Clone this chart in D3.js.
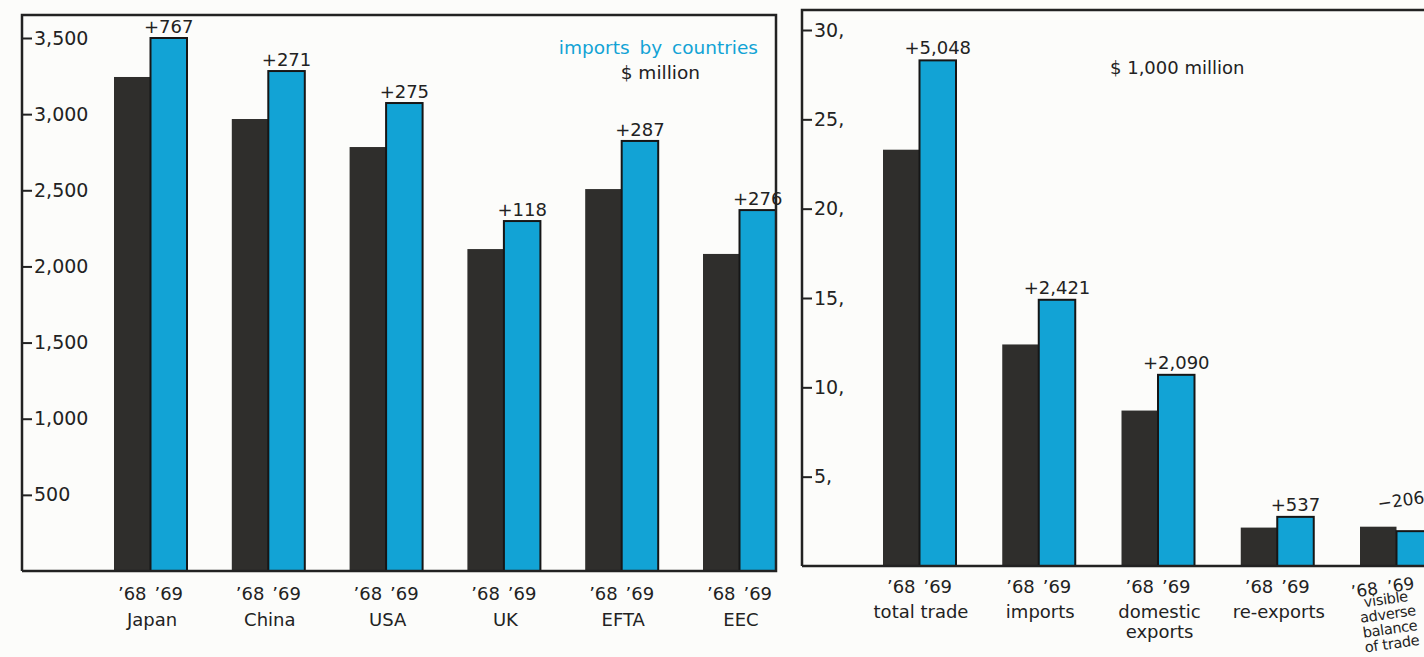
<!DOCTYPE html>
<html>
<head>
<meta charset="utf-8">
<script src="https://cdn.jsdelivr.net/npm/d3@7"></script>
<style>
  body { margin: 0; background: #fcfcfa; }
  svg { display: block; font-family: "DejaVu Sans", sans-serif; }
</style>
</head>
<body>
<script>
// left panel: imports by countries, $ million
var countries = ["Japan", "China", "USA", "UK", "EFTA", "EEC"];
var imports68 = [3244, 2968, 2784, 2114, 2508, 2082];
var imports69 = [3500, 3283, 3073, 2298, 2824, 2370];
var importChange = ["+767", "+271", "+275", "+118", "+287", "+276"];
var leftTicks = [500, 1000, 1500, 2000, 2500, 3000, 3500];

// right panel: $ 1,000 million
var tradeCats = [["total trade"], ["imports"], ["domestic", "exports"], ["re-exports"], ["visible", "adverse", "balance", "of trade"]];
var trade68 = [23.3, 12.4, 8.7, 2.15, 2.2];
var trade69 = [28.3, 14.9, 10.7, 2.75, 1.95];
var tradeChange = ["+5,048", "+2,421", "+2,090", "+537", "\u2212206"];
var rightTicks = [5, 10, 15, 20, 25, 30];

var years = ["\u201968", "\u201969"];

var svgWidth = 1424, svgHeight = 657;
var dark = "#2f2e2c", blue = "#12a3d5", ink = "#222";

var svg = d3.select("body")
            .append("svg")
            .attr("width", svgWidth)
            .attr("height", svgHeight);

var yr = d3.scaleBand().domain(years).range([-38, 35]);

// ---------- left panel ----------
var L = {left: 22, top: 15, right: 776, bottom: 571};
var yL = d3.scaleLinear().domain([0, 3500]).range([L.bottom, 38]);
var xL = d3.scalePoint().domain(countries).range([152, 741]);

var left = svg.append("g");

var groupsL = left.selectAll(".grp")
    .data(countries)
    .enter()
    .append("g")
    .attr("transform", d => `translate(${xL(d)},0)`);

groupsL.append("rect")
    .attr("x", yr(years[0]))
    .attr("width", yr.bandwidth())
    .attr("y", (d, i) => yL(imports68[i]))
    .attr("height", (d, i) => L.bottom - yL(imports68[i]))
    .attr("fill", dark);

groupsL.append("rect")
    .attr("x", yr(years[1]))
    .attr("width", yr.bandwidth())
    .attr("y", (d, i) => yL(imports69[i]))
    .attr("height", (d, i) => L.bottom - yL(imports69[i]))
    .attr("fill", blue)
    .attr("stroke", "#161616")
    .attr("stroke-width", 2);

groupsL.append("text")
    .attr("x", yr(years[1]) + yr.bandwidth() / 2)
    .attr("y", (d, i) => yL(imports69[i]) - 5)
    .attr("text-anchor", "middle")
    .attr("font-size", 18)
    .attr("fill", ink)
    .text((d, i) => importChange[i]);

years.forEach(function(y) {
  groupsL.append("text")
      .attr("x", yr(y) + yr.bandwidth() / 2)
      .attr("y", 600)
      .attr("text-anchor", "middle")
      .attr("font-size", 18)
      .attr("fill", ink)
      .text(y);
});

groupsL.append("text")
    .attr("y", 626)
    .attr("text-anchor", "middle")
    .attr("font-size", 18)
    .attr("fill", ink)
    .text(d => d);

left.append("path")
    .attr("d", `M${L.left},${L.bottom}V${L.top}H${L.right}V${L.bottom}H${L.left}`)
    .attr("fill", "none")
    .attr("stroke", ink)
    .attr("stroke-width", 2.5);

var axisL = left.append("g")
    .attr("transform", `translate(${L.left},0)`)
    .call(d3.axisRight(yL).tickValues(leftTicks).tickSize(10).tickPadding(2).tickFormat(d3.format(",")));
axisL.select(".domain").remove();
axisL.selectAll("line").attr("stroke", ink).attr("stroke-width", 2);
axisL.selectAll("text").attr("font-size", 19).attr("fill", ink).attr("font-family", "DejaVu Sans");

left.append("text")
    .attr("x", 758).attr("y", 54)
    .attr("text-anchor", "end")
    .attr("font-size", 18.5)
    .attr("word-spacing", 4)
    .attr("fill", blue)
    .text("imports by countries");

left.append("text")
    .attr("x", 700).attr("y", 79)
    .attr("text-anchor", "end")
    .attr("font-size", 18.5)
    .attr("fill", ink)
    .text("$ million");

// ---------- right panel ----------
var R = {left: 802, top: 10, right: 1430, bottom: 566};
var yR = d3.scaleLinear().domain([0, 30]).range([R.bottom, 30]);
var xR = d3.scalePoint().domain(d3.range(tradeCats.length)).range([921, 1398]);
var last = tradeCats.length - 1;

var right = svg.append("g");

var groupsR = right.selectAll(".grp")
    .data(tradeCats)
    .enter()
    .append("g")
    .attr("transform", (d, i) => `translate(${xR(i)},0)`);

groupsR.append("rect")
    .attr("x", yr(years[0]))
    .attr("width", yr.bandwidth())
    .attr("y", (d, i) => yR(trade68[i]))
    .attr("height", (d, i) => R.bottom - yR(trade68[i]))
    .attr("fill", dark);

groupsR.append("rect")
    .attr("x", yr(years[1]))
    .attr("width", yr.bandwidth())
    .attr("y", (d, i) => yR(trade69[i]))
    .attr("height", (d, i) => R.bottom - yR(trade69[i]))
    .attr("fill", blue)
    .attr("stroke", "#161616")
    .attr("stroke-width", 2);

// labels; the last group sits on the curl of the page, so it is tilted and squeezed in
var labelsR = groupsR.append("g")
    .attr("transform", (d, i) => i === last ? "translate(-10,0) rotate(-8,0,615)" : null);

labelsR.append("text")
    .attr("x", (d, i) => yr(years[1]) + yr.bandwidth() / 2 + (i === last ? 12 : 0))
    .attr("y", (d, i) => yR(trade69[i]) - 6 - (i === last ? 16 : 0))
    .attr("text-anchor", "middle")
    .attr("font-size", (d, i) => i === last ? 17 : 18)
    .attr("fill", ink)
    .text((d, i) => tradeChange[i]);

years.forEach(function(y) {
  labelsR.append("text")
      .attr("x", yr(y) + yr.bandwidth() / 2)
      .attr("y", 593)
      .attr("text-anchor", "middle")
      .attr("font-size", (d, i) => i === last ? 17 : 18)
      .attr("fill", ink)
      .text(y);
});

labelsR.each(function(d, i) {
  var g = d3.select(this);
  var small = i === last;
  d.forEach(function(line, k) {
    g.append("text")
        .attr("y", (small ? 604 : 618) + k * (small ? 15 : 20))
        .attr("text-anchor", "middle")
        .attr("font-size", small ? 14.5 : 18)
        .attr("letter-spacing", small ? -0.3 : 0)
        .attr("fill", ink)
        .text(line);
  });
});

right.append("path")
    .attr("d", `M${R.left},${R.bottom}V${R.top}H${R.right}M${R.left},${R.bottom}H${R.right}`)
    .attr("fill", "none")
    .attr("stroke", ink)
    .attr("stroke-width", 2.5);

var axisR = right.append("g")
    .attr("transform", `translate(${R.left},0)`)
    .call(d3.axisRight(yR).tickValues(rightTicks).tickSize(10).tickPadding(2).tickFormat(d => d + ","));
axisR.select(".domain").remove();
axisR.selectAll("line").attr("stroke", ink).attr("stroke-width", 2);
axisR.selectAll("text").attr("font-size", 19).attr("fill", ink).attr("font-family", "DejaVu Sans");

right.append("text")
    .attr("x", 1110).attr("y", 74)
    .attr("font-size", 18)
    .attr("fill", ink)
    .text("$ 1,000 million");
</script>
</body>
</html>
